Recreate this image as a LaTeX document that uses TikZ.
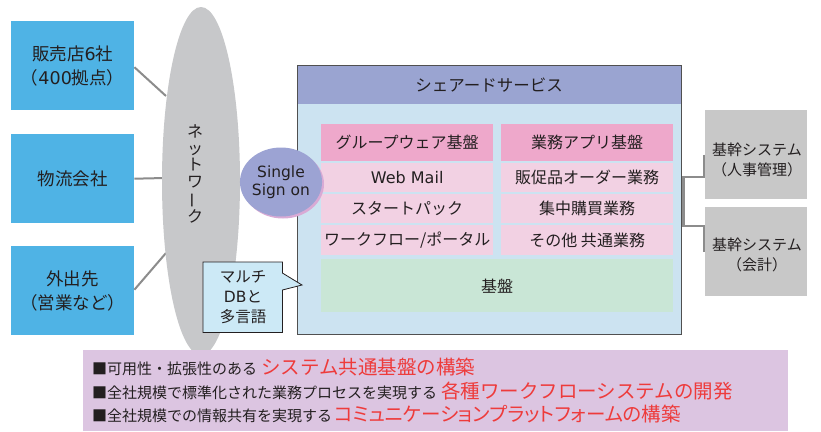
\documentclass[tikz,border=0pt]{standalone}
\usepackage{fontspec}
\setmainfont{Noto Sans CJK JP}
\newfontfamily\lat{DejaVu Sans}
\usetikzlibrary{shapes.geometric}
\definecolor{cblue}{HTML}{4FB3E5}
\definecolor{cnet}{HTML}{C7C8CA}
\definecolor{chead}{HTML}{9AA4D1}
\definecolor{cbody}{HTML}{CCE3F1}
\definecolor{cpinkh}{HTML}{EEA8CB}
\definecolor{cpinkl}{HTML}{F2D1E3}
\definecolor{cgreen}{HTML}{C9E6D6}
\definecolor{csso}{HTML}{9CA3D3}
\definecolor{cssos}{HTML}{D9AAD5}
\definecolor{ccall}{HTML}{CCE9F6}
\definecolor{cgray}{HTML}{C8C8C8}
\definecolor{cbot}{HTML}{DCC5E1}
\definecolor{cred}{HTML}{EE3B3B}
\definecolor{ctext}{HTML}{231F20}
\definecolor{cline}{HTML}{8C8C8C}
\definecolor{cborder}{HTML}{505050}
\begin{document}
\begin{tikzpicture}[x=1pt,y=-1pt,
  every node/.style={text=ctext, inner sep=0pt},
  bluebox/.style={fill=cblue, minimum width=123pt, minimum height=89pt, anchor=north west, align=center, font=\fontsize{17.5}{24}\selectfont},
  cellh/.style={fill=cpinkh, minimum width=172pt, minimum height=37pt, anchor=north west, font=\fontsize{16}{18}\selectfont},
  celll/.style={fill=cpinkl, minimum width=172pt, anchor=north west, font=\fontsize{16}{18}\selectfont},
  graybox/.style={fill=cgray, minimum width=102pt, minimum height=89pt, anchor=north west},
  graytext/.style={align=center, font=\fontsize{15}{20}\selectfont},
  conn/.style={draw=cline, line width=2pt},
  bline/.style={font=\fontsize{15}{18}\selectfont, anchor=west}
]
\useasboundingbox (0,0) rectangle (821,431);
\fill[white] (0,0) rectangle (821,431);

% left boxes
\node[bluebox] (b1) at (11,21) {販売店{\lat 6}社\\（{\lat 400}拠点）};
\node[bluebox] (b2) at (11,134) {物流会社};
\node[bluebox] (b3) at (11,246) {外出先\\（営業など）};

% connectors to network
\coordinate (n1) at (166,96);
\coordinate (n2) at (165,178);
\coordinate (n3) at (166,253);
\draw[conn] ([yshift=-1.5]b1.east) -- (n1);
\draw[conn] (b2.east) -- (n2);
\draw[conn] ([yshift=1]b3.east) -- (n3);

% network ellipse
\node[ellipse, fill=cnet, minimum width=78pt, minimum height=348pt] (net) at (201,181) {};
\node[align=center, font=\fontsize{16}{16.6}\selectfont] (nett) at (195,174) {ネ\\ッ\\ト\\ワ\\\rotatebox[origin=c]{90}{ー}\\ク};

% shared services
\node[fill=cbody, minimum width=384pt, minimum height=269pt, anchor=north west] (sh) at (297,65) {};
\node[fill=chead, minimum width=384pt, minimum height=39pt, anchor=north west, font=\fontsize{16.5}{18}\selectfont] (shh) at (297,65) {シェアードサービス};
\draw[cborder, line width=1pt] (sh.north west) rectangle (sh.south east);

\node[cellh] (c11) at (321,124) {グループウェア基盤};
\node[cellh] (c12) at (501,124) {業務アプリ基盤};
\node[celll, minimum height=29pt] (c21) at (321,163) {\lat Web Mail};
\node[celll, minimum height=29pt] (c22) at (501,163) {販促品オーダー業務};
\node[celll, minimum height=29pt] (c31) at (321,194) {スタートパック};
\node[celll, minimum height=29pt] (c32) at (501,194) {集中購買業務};
\node[celll, minimum height=30pt] (c41) at (321,225) {ワークフロー/ポータル};
\node[celll, minimum height=30pt] (c42) at (501,225) {その他 共通業務};
\node[fill=cgreen, minimum width=352pt, minimum height=53pt, anchor=north west, font=\fontsize{16}{18}\selectfont] (kiban) at (321,259) {基盤};

% single sign on
\fill[cssos] (283,184) ellipse [x radius=41, y radius=34.5];
\node[ellipse, fill=csso, minimum width=82pt, minimum height=69pt, align=center, font=\lat\fontsize{15.5}{18}\selectfont] (sso) at (281,182) {Single\\Sign on};

% callout
\node[minimum width=79pt, minimum height=70pt, anchor=north west] (db) at (203,262) {};
\coordinate (dbtip) at (302,285);
\draw[fill=ccall, draw=ctext, line width=0.8pt] (db.north west) -- (db.north east) -- ([yshift=-11]db.north east) -- (dbtip) -- ([yshift=-28]db.north east) -- (db.south east) -- (db.south west) -- cycle;
\node[align=center, font=\fontsize{15.5}{20}\selectfont] (dbt) at (243,297) {マルチ\\{\lat DB}と\\多言語};

% right boxes
\node[graybox] (g1) at (705,110) {};
\node[graybox] (g2) at (705,207) {};
\node[graytext] (g1t) at (757,160) {基幹システム\\（人事管理）};
\node[graytext] (g2t) at (757,255) {基幹システム\\（会計）};
\draw[conn, line width=2.5pt] ([xshift=-1]g1.west) -- ([xshift=-1]g1.west |- 0,177) -- ([xshift=2]sh.east |- 0,177) -- ([xshift=2]sh.east |- 0,226) -- ([xshift=-1]g2.west |- 0,226) -- ([xshift=-1]g2.west);

% bottom box
\node[fill=cbot, minimum width=705pt, minimum height=81pt, anchor=north west] (bot) at (83,350) {};
\node[bline] (l1) at (92,367) {■可用性・拡張性のある\hspace{4pt}\textcolor{cred}{\fontsize{19.5}{22}\selectfont システム共通基盤の構築}};
\node[bline] (l2) at (92,391) {■全社規模で標準化された業務プロセスを実現する\hspace{4pt}\textcolor{cred}{\fontsize{19.5}{22}\selectfont 各種ワークフローシステムの開発}};
\node[bline] (l3) at (92,414) {■全社規模での情報共有を実現する\hspace{2pt}\textcolor{cred}{\fontsize{19.5}{22}\selectfont\addfontfeatures{RawFeature=+palt}コミュニケーションプラットフォームの構築}};
\end{tikzpicture}
\end{document}
